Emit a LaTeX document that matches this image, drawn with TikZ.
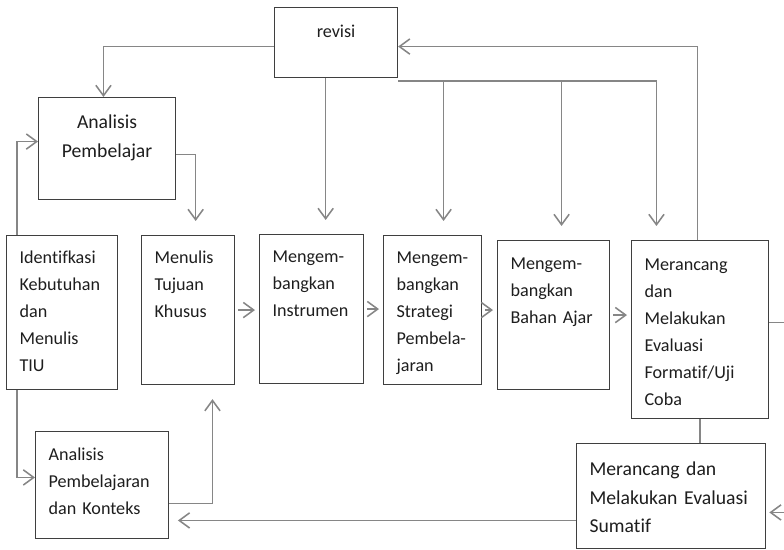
\documentclass[tikz,border=0pt]{standalone}
\usepackage{fontspec}
\setmainfont{Carlito}[Ligatures=NoCommon,WordSpace=0.6]
\usetikzlibrary{arrows.meta}
\definecolor{cBox}{HTML}{3F3F3F}
\definecolor{cArr}{HTML}{868686}
\definecolor{cTxt}{HTML}{1E1E1E}

\begin{document}
\begin{tikzpicture}[>={Straight Barb[length=2.6mm,width=3.8mm]},
  box/.style={draw=cBox,fill=white,line width=0.8pt,anchor=north west,inner xsep=3.25mm,inner ysep=0pt,
    align=left,text=cTxt,font=\fontsize{12.9}{19.2}\selectfont,text height=7mm},
  big/.style={font=\fontsize{14}{20.4}\selectfont},
  ln/.style={draw=cArr,line width=1.1pt},
  arr/.style={ln,->}]
\useasboundingbox (0,0) rectangle (19.6,13.75);
% ---------- boxes ----------
\node[box,align=center,text width=24.25mm,text height=7.5mm,text depth=10mm] (revisi) at (6.85,13.575) {revisi};
\node[box,big,align=center,text width=27.75mm,text height=7.75mm,text depth=17.75mm] (AnPem) at (0.95,11.325) {Analisis\\Pembelajar};
\node[box,text width=21.25mm,text depth=31.5mm] (Ident) at (0.15,7.875) {Identifkasi\\Kebutuhan\\dan\\Menulis\\TIU};
\node[box,text width=16.75mm,text depth=30.25mm] (Menul) at (3.525,7.875) {Menulis\\Tujuan\\Khusus};
\node[box,text width=19.5mm,text depth=30.25mm] (Instr) at (6.475,7.9) {Mengem-\\bangkan\\Instrumen};
\node[box,text width=18mm,text depth=30.25mm] (Strat) at (9.575,7.875) {Mengem-\\bangkan\\Strategi\\Pembela-\\jaran};
\node[box,text width=21.5mm,text height=7.25mm,text depth=30mm] (Bahan) at (12.425,7.75) {Mengem-\\bangkan\\Bahan Ajar};
\node[box,text width=27.75mm,text height=7.5mm,text depth=37mm] (Meran) at (15.775,7.75) {Merancang\\dan\\Melakukan\\Evaluasi\\Formatif/Uji\\Coba};
\node[box,big,text width=40.75mm,text height=8mm,text depth=18.25mm] (Sumat) at (14.4,2.675) {Merancang dan\\Melakukan Evaluasi\\Sumatif};
\node[box,text width=26.75mm,text height=7.25mm,text depth=19.5mm] (AnKon) at (0.875,2.975) {Analisis\\Pembelajaran\\dan Konteks};
% ---------- revisi lines ----------
\draw[arr] ([yshift=-1mm]revisi.west) -| ([xshift=-0.9mm]AnPem.north);
\coordinate (rvS) at ([xshift=-2.6mm]revisi.south);
\draw[arr,shorten >=3.5mm] (rvS) -- (rvS |- Instr.north);
\coordinate (bus) at ([yshift=-0.75mm]revisi.south east);
\coordinate (mrT) at ([xshift=-10.9mm]Meran.north);
\draw[arr,shorten >=3.5mm] (bus) -| (mrT);
\coordinate (stT) at ([xshift=2.75mm]Strat.north);
\draw[arr,shorten >=3.5mm] (stT |- bus) -- (stT);
\coordinate (bhT) at ([xshift=2mm]Bahan.north);
\draw[arr,shorten >=3.5mm] (bhT |- bus) -- (bhT);
\draw[arr] ([xshift=-0.6mm]Meran.north) |- ([yshift=-1mm]revisi.east);
% ---------- left part ----------
\coordinate (mnT) at ([xshift=1.9mm]Menul.north);
\draw[arr,shorten >=3.5mm] ([yshift=-1.5mm]AnPem.east) -| (mnT);
\draw[arr] ([xshift=2.75mm]Ident.north west) |- ([yshift=1.75mm]AnPem.west);
\draw[arr] ([xshift=2.75mm]Ident.south west) |- ([yshift=1.9mm]AnKon.west);
\coordinate (mnB) at ([xshift=6.1mm]Menul.south);
\draw[arr,shorten >=3.5mm] ([yshift=-4.6mm]AnKon.east) -| (mnB);
% ---------- main chain ----------
\foreach \a/\b in {Menul/Instr,Instr/Strat,Strat/Bahan,Bahan/Meran}{\draw[arr,shorten <=0.8mm,shorten >=1mm] (\a.east) -- (\a.east -| \b.west);}
% ---------- evaluation ----------
\draw[ln] (Meran.south) -- (Meran.south |- Sumat.north);
\draw[arr,shorten >=0.8mm] ([yshift=1.75mm]Meran.east) -- ++(6mm,0) |- ([yshift=-4.1mm]Sumat.east);
\coordinate (smW) at ([yshift=-6.1mm]Sumat.west);
\draw[arr,shorten >=2.2mm] (smW) -- (smW -| AnKon.east);
\end{tikzpicture}
\end{document}
